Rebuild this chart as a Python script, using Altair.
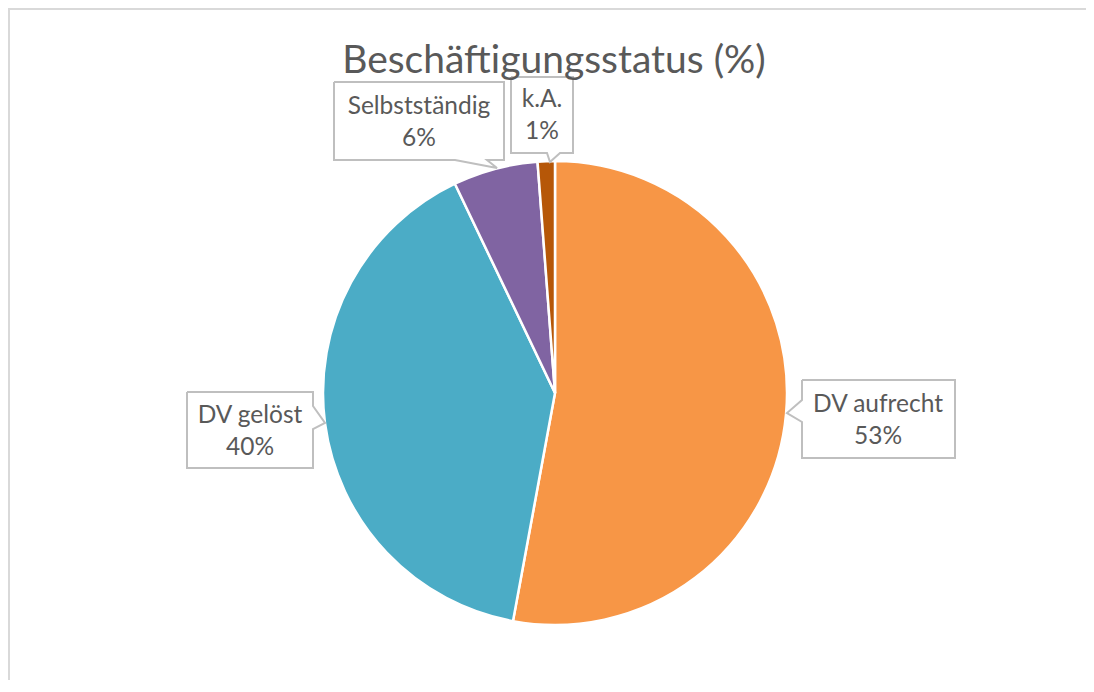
import altair as alt
import pandas as pd

# ---- data ----
categories = ["DV aufrecht", "DV gelöst", "Selbstständig", "k.A."]
values = [52.9, 40.0, 5.9, 1.2]
pct_labels = ["53%", "40%", "6%", "1%"]
title_text = "Beschäftigungsstatus (%)"

# ---- styles ----
colors = ["#F79646", "#4BACC6", "#8064A2", "#B65708"]
FONT = "Lato"
TEXT_COLOR = "#595959"
BOX_COLOR = "#BFBFBF"
LABEL_SIZE = 24.5
LINE_H = 32

# ---- layout (chart pixel coords = page coords - 8) ----
OFF = 8
CX, CY, R = 555 - OFF, 393 - OFF, 232
TITLE_X, TITLE_Y = 554 - OFF, 73 - OFF
callouts = {
    "DV aufrecht": dict(box=(802, 380, 955, 458), side="left", a=400, b=422, tip=(787, 413), text=(878, 421)),
    "DV gelöst": dict(box=(187, 392, 313, 468), side="right", a=406, b=429, tip=(325, 423), text=(250, 432)),
    "Selbstständig": dict(box=(334, 82, 504, 160), side="bottom", a=455, b=487, tip=(497, 168), text=(419, 123)),
    "k.A.": dict(box=(511, 77, 573, 153), side="bottom", a=547, b=560, tip=(550, 162), text=(542, 116)),
}


def outline(box, side, a, b, tip):
    x0, y0, x1, y1 = box
    pts = [(x0, y0), (x1, y0)]
    if side == "right":
        pts += [(x1, a), tip, (x1, b)]
    pts.append((x1, y1))
    if side == "bottom":
        pts += [(b, y1), tip, (a, y1)]
    pts.append((x0, y1))
    if side == "left":
        pts += [(x0, b), tip, (x0, a)]
    pts.append((x0, y0))
    return pts


pie_df = pd.DataFrame({"cat": categories, "val": values, "ord": list(range(len(categories)))})

line_rows = []
text_rows = []
for cat, pct in zip(categories, pct_labels):
    c = callouts[cat]
    for i, (px, py) in enumerate(outline(c["box"], c["side"], c["a"], c["b"], c["tip"])):
        line_rows.append({"cat": cat, "i": i, "px": px - OFF, "py": py - OFF})
    # first line centred half a line above the box centre
    text_rows.append({"label": f"{cat}\n{pct}", "px": c["text"][0] - OFF,
                      "py": c["text"][1] - OFF - LINE_H / 2})
line_df = pd.DataFrame(line_rows)
text_df = pd.DataFrame(text_rows)

pie = alt.Chart(pie_df).mark_arc(stroke="white", strokeWidth=2.5).encode(
    theta=alt.Theta("val:Q", stack=True),
    order=alt.Order("ord:Q", sort="ascending"),
    color=alt.Color("cat:N", scale=alt.Scale(domain=categories, range=colors), legend=None),
    x=alt.value(CX),
    y=alt.value(CY),
    radius=alt.value(R),
)

boxes = alt.Chart(line_df).mark_line(color=BOX_COLOR, strokeWidth=2, strokeJoin="miter").encode(
    x=alt.X("px:Q", scale=None),
    y=alt.Y("py:Q", scale=None),
    detail="cat:N",
    order="i:Q",
)

texts = alt.Chart(text_df).mark_text(
    font=FONT, fontSize=LABEL_SIZE, color=TEXT_COLOR, lineBreak="\n", lineHeight=LINE_H,
    align="center", baseline="middle",
).encode(
    x=alt.X("px:Q", scale=None),
    y=alt.Y("py:Q", scale=None),
    text="label:N",
)

title = alt.Chart(pd.DataFrame({"t": [title_text]})).mark_text(
    font=FONT, fontSize=39, color=TEXT_COLOR, align="center", baseline="alphabetic",
).encode(x=alt.value(TITLE_X), y=alt.value(TITLE_Y), text="t:N")

frame_top = alt.Chart(pie_df).mark_rule(color="#D9D9D9", strokeWidth=2).encode(
    x=alt.value(0), x2=alt.value(1078), y=alt.value(1)
)
frame_left = alt.Chart(pie_df).mark_rule(color="#D9D9D9", strokeWidth=2).encode(
    x=alt.value(1), y=alt.value(0), y2=alt.value(700)
)

chart = alt.layer(frame_top, frame_left, pie, boxes, texts, title).properties(
    width=1078,
    height=672,
    padding=0,
    autosize=alt.AutoSizeParams(type="none"),
).configure_view(stroke=None).configure(background="white")

chart.save("out.html", embed_options={"renderer": "svg", "actions": False})
